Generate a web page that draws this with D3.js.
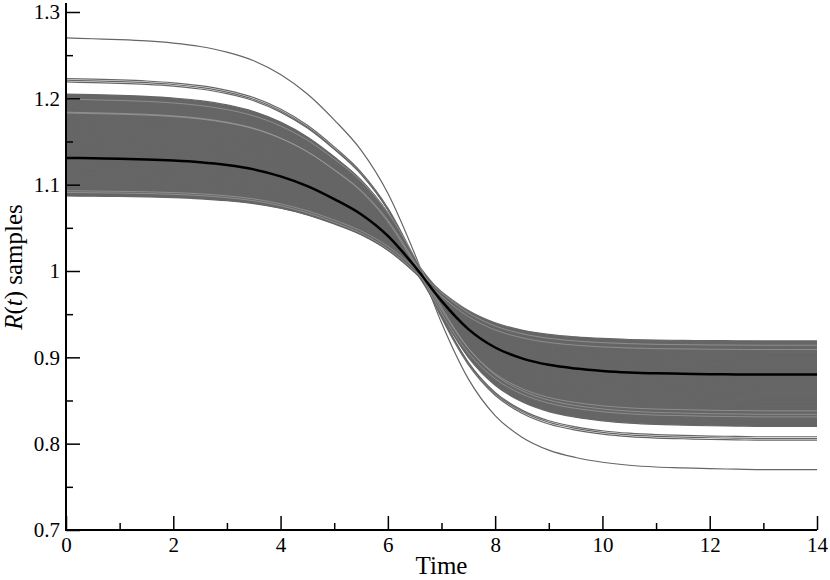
<!DOCTYPE html>
<html>
<head>
<meta charset="utf-8">
<script src="https://cdn.jsdelivr.net/npm/d3@7"></script>
<style>
  body { margin: 0; background: #fff; }
  svg text { font-family: "Liberation Serif", "Times New Roman", serif; fill: #000; }
</style>
</head>
<body>
<svg id="chart" width="830" height="580"></svg>
<script>
// time grid the curves were read at
const timeGrid = [0, 0.5, 1, 1.5, 2, 2.5, 3, 3.5, 4, 4.5, 5, 5.5, 6, 6.5, 7,
  7.5, 8, 8.5, 9, 9.5, 10, 10.5, 11, 11.5, 12, 12.5, 13, 13.5, 14];

// share of the drop from the early level to the late level
const dropShare = [0, 0.002, 0.004, 0.007, 0.012, 0.02, 0.033, 0.053, 0.085, 0.13,
  0.19, 0.26, 0.36, 0.5, 0.66, 0.79, 0.875, 0.925, 0.955, 0.972, 0.983, 0.99,
  0.994, 0.996, 0.998, 0.999, 1, 1, 1];

// mean curve levels [early, late]
const meanLevels = [1.131, 0.880];

// outlying samples [early, late]
const outlierLevels = [
  [1.270, 0.770], [1.223, 0.806], [1.221, 0.804], [1.219, 0.808]
];

// samples forming the dense band [early, late]
const bandLevels = [
  [1.205, 0.822], [1.203, 0.826], [1.201, 0.820], [1.199, 0.830], [1.197, 0.824],
  [1.195, 0.834], [1.193, 0.828], [1.191, 0.836], [1.189, 0.832], [1.186, 0.838],
  [1.182, 0.829], [1.180, 0.842], [1.178, 0.836], [1.176, 0.845], [1.174, 0.840],
  [1.172, 0.848], [1.170, 0.843], [1.168, 0.851], [1.166, 0.846], [1.164, 0.854],
  [1.162, 0.849], [1.160, 0.857], [1.158, 0.852], [1.156, 0.860], [1.154, 0.855],
  [1.152, 0.863], [1.150, 0.858], [1.148, 0.866], [1.146, 0.861], [1.144, 0.869],
  [1.142, 0.864], [1.140, 0.872], [1.138, 0.867], [1.136, 0.875], [1.134, 0.870],
  [1.132, 0.878], [1.130, 0.873], [1.128, 0.882], [1.126, 0.877], [1.124, 0.885],
  [1.122, 0.880], [1.120, 0.888], [1.118, 0.884], [1.116, 0.892], [1.114, 0.887],
  [1.112, 0.895], [1.110, 0.890], [1.108, 0.898], [1.106, 0.893], [1.104, 0.901],
  [1.102, 0.897], [1.100, 0.905], [1.098, 0.900], [1.096, 0.908], [1.094, 0.903],
  [1.092, 0.912], [1.090, 0.907], [1.089, 0.916], [1.088, 0.911], [1.087, 0.919]
];

// thin light streaks (gaps between samples) seen inside the band [early, late]
const bandGapLevels = [
  [1.199, 0.834], [1.184, 0.831], [1.183, 0.838], [1.093, 0.914], [1.091, 0.909]
];

const xMajor = [0, 2, 4, 6, 8, 10, 12, 14];
const xMinor = [1, 3, 5, 7, 9, 11, 13];
const yMajor = [0.7, 0.8, 0.9, 1, 1.1, 1.2, 1.3];
const yMinor = [0.75, 0.85, 0.95, 1.05, 1.15, 1.25];

const svg = d3.select('#chart');

const x = d3.scaleLinear().domain([0, 14]).range([66, 817]);
const y = d3.scaleLinear().domain([0.7, 1.3]).range([530, 12]);

// turn a pair of levels into points along the time grid
const toPoints = lv => timeGrid.map((t, i) => [t, lv[0] - (lv[0] - lv[1]) * dropShare[i]]);

const line = d3.line()
    .x(d => x(d[0]))
    .y(d => y(d[1]))
    .curve(d3.curveMonotoneX);

const bandPts = bandLevels.map(toPoints);

// fill under the band lines so it reads solid
const area = d3.area()
    .x((d, i) => x(timeGrid[i]))
    .y0((d, i) => y(d3.min(bandPts, p => p[i][1])))
    .y1((d, i) => y(d3.max(bandPts, p => p[i][1])))
    .curve(d3.curveMonotoneX);

svg.append('path')
    .datum(timeGrid)
    .attr('d', area)
    .attr('fill', '#666');

svg.append('g')
    .selectAll('path')
    .data(bandPts.concat(outlierLevels.map(toPoints)))
    .join('path')
    .attr('d', line)
    .attr('fill', 'none')
    .attr('stroke', '#666')
    .attr('stroke-width', 1.2);

svg.append('g')
    .selectAll('path')
    .data(bandGapLevels.map(toPoints))
    .join('path')
    .attr('d', line)
    .attr('fill', 'none')
    .attr('stroke', '#a8a8a8')
    .attr('stroke-width', 0.6);

svg.append('path')
    .datum(toPoints(meanLevels))
    .attr('d', line)
    .attr('fill', 'none')
    .attr('stroke', '#000')
    .attr('stroke-width', 2.5);

// axes, ticks point inward
const serif = '"Liberation Serif", "Times New Roman", serif';

svg.append('g')
    .attr('transform', `translate(${x(0)},0)`)
    .call(d3.axisLeft(y).tickValues(yMajor).tickFormat(d3.format('~g'))
        .tickSizeInner(-14).tickSizeOuter(0).tickPadding(6))
    .attr('font-family', serif);
svg.append('g')
    .attr('transform', `translate(${x(0)},0)`)
    .call(d3.axisLeft(y).tickValues(yMinor).tickFormat('')
        .tickSizeInner(-7).tickSizeOuter(0));

svg.append('g')
    .attr('transform', `translate(0,${y(0.7)})`)
    .call(d3.axisBottom(x).tickValues(xMajor).tickFormat(d3.format('d'))
        .tickSizeInner(-14).tickSizeOuter(0).tickPadding(7))
    .attr('font-family', serif);
svg.append('g')
    .attr('transform', `translate(0,${y(0.7)})`)
    .call(d3.axisBottom(x).tickValues(xMinor).tickFormat('')
        .tickSizeInner(-7).tickSizeOuter(0));

svg.selectAll('.domain').remove();
svg.selectAll('.tick line').attr('stroke', '#000').attr('stroke-width', 1.5);
svg.selectAll('.tick text').style('font-size', '21px').style('font-family', serif);

svg.append('line')
    .attr('x1', x(0)).attr('x2', x(0))
    .attr('y1', y(1.3104)).attr('y2', y(0.7) + 1)
    .attr('stroke', '#000').attr('stroke-width', 2);
svg.append('line')
    .attr('x1', x(0) - 1).attr('x2', x(14))
    .attr('y1', y(0.7)).attr('y2', y(0.7))
    .attr('stroke', '#000').attr('stroke-width', 2);

svg.append('text')
    .attr('x', x(7))
    .attr('y', 574)
    .attr('text-anchor', 'middle')
    .style('font-size', '25px')
    .text('Time');

const yTitle = svg.append('text')
    .attr('transform', `translate(22,${y(1.0) - 4}) rotate(-90)`)
    .attr('text-anchor', 'middle')
    .style('font-size', '25px');
yTitle.append('tspan').style('font-style', 'italic').text('R');
yTitle.append('tspan').text('(');
yTitle.append('tspan').style('font-style', 'italic').text('t');
yTitle.append('tspan').text(') samples');
</script>
</body>
</html>
